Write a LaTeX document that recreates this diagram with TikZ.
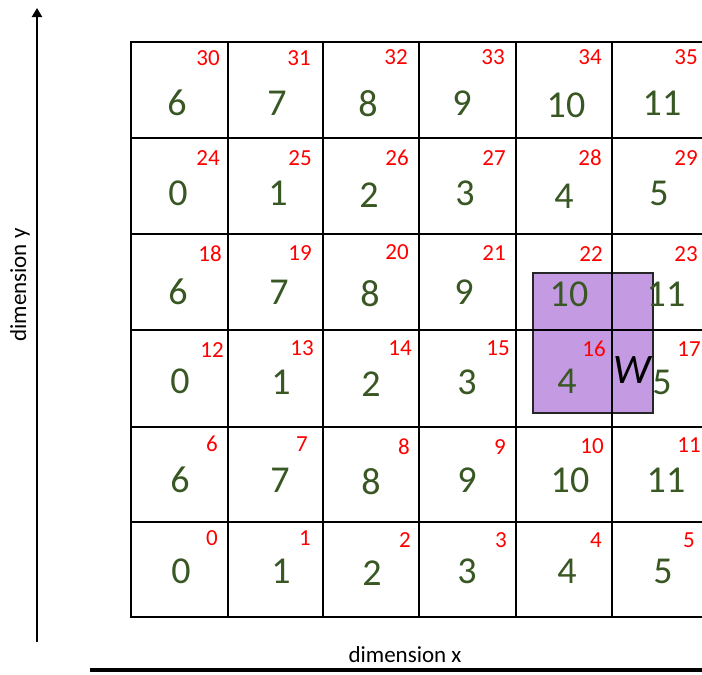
\documentclass[tikz,border=0pt]{standalone}
\usepackage{fontspec}
\setmainfont{Carlito}
\usetikzlibrary{arrows.meta}
\definecolor{dgreen}{RGB}{56,87,35}
\definecolor{wpurple}{RGB}{196,155,226}
\begin{document}
\begin{tikzpicture}[x=1pt,y=-1pt,
  gnum/.style={text=dgreen,font=\fontsize{38}{38}\selectfont,inner sep=0pt},
  rnum/.style={text=red,font=\fontsize{23}{23}\selectfont,inner sep=0pt},
  gridline/.style={line width=2.8pt,line cap=rect},
  axislabel/.style={font=\fontsize{23}{23}\selectfont,inner sep=0pt},
  axisline/.style={line width=2.8pt}]
\useasboundingbox (0,0) rectangle (702,675);
\fill[white] (0,0) rectangle (702,675);
% window
\draw[fill=wpurple,draw=black!85,line width=1.4pt] (533,273) rectangle (653,413);
% grid
\foreach \x in {131,228,323,419,516,612} \draw[gridline] (\x,42) -- (\x,617);
\foreach \y in {42,138,234,330,427,522,617} \draw[gridline] (131,\y) -- (710,\y);
% red cell indices
\foreach \l/\x/\y in {30/208/58,31/299/58,32/396/57,33/493/57,34/590/57,35/686/57,
  24/208/158,25/300/158,26/397/158,27/494/158,28/590/158,29/686/158,
  18/210/254,19/300/253,20/397/252,21/494/253,22/591/254,23/686/254,
  12/212/350,13/302/348,14/400/348,15/498/348,16/594/349,17/689/349,
  6/212/444,7/302/444,8/404/447,9/500/447,10/592/446,11/689/445,
  0/212/538,1/305/538,2/405/540,3/501/540,4/596/540,5/689/540}
  \node[rnum] (r\l) at (\x,\y) {\l};
% green values
\foreach \n/\v/\x/\y in {30/6/177/103,31/7/277/103,32/8/368/104,33/9/462/103,34/10/566/105,35/11/662/103,
  24/0/178/193,25/1/278/193,26/2/369/195,27/3/465/193,28/4/564/196,29/5/659/193,
  18/6/178/292,19/7/279/292,20/8/370/294,21/9/464/292,22/10/569/294,23/11/666/294,
  12/0/180/381,13/1/281/382,14/2/371/384,15/3/467/382,16/4/567/381,17/5/662/382,
  6/6/180/480,7/7/280/480,8/8/371/482,9/9/467/480,10/10/570/480,11/11/666/480,
  0/0/181/571,1/1/281/571,2/2/372/573,3/3/467/571,4/4/567/571,5/5/663/571}
  \node[gnum] (g\n) at (\x,\y) {\v};
% window label
\node[font=\fontsize{42}{42}\selectfont\itshape,inner sep=0pt] (W) at (632,370) {W};
% axes
\coordinate (ybot) at (37,642);
\coordinate (ytop) at (37,8);
\draw[axisline,-{Triangle[length=9pt,width=10pt]}] (ybot) -- (ytop);
\coordinate (xl) at (90,670);
\coordinate (xr) at (710,670);
\draw[line width=3.2pt] (xl) -- (xr);
\node[axislabel] (dimx) at (405,655) {dimension x};
\node[axislabel,rotate=90] (dimy) at (20,285) {dimension y};
\end{tikzpicture}
\end{document}
